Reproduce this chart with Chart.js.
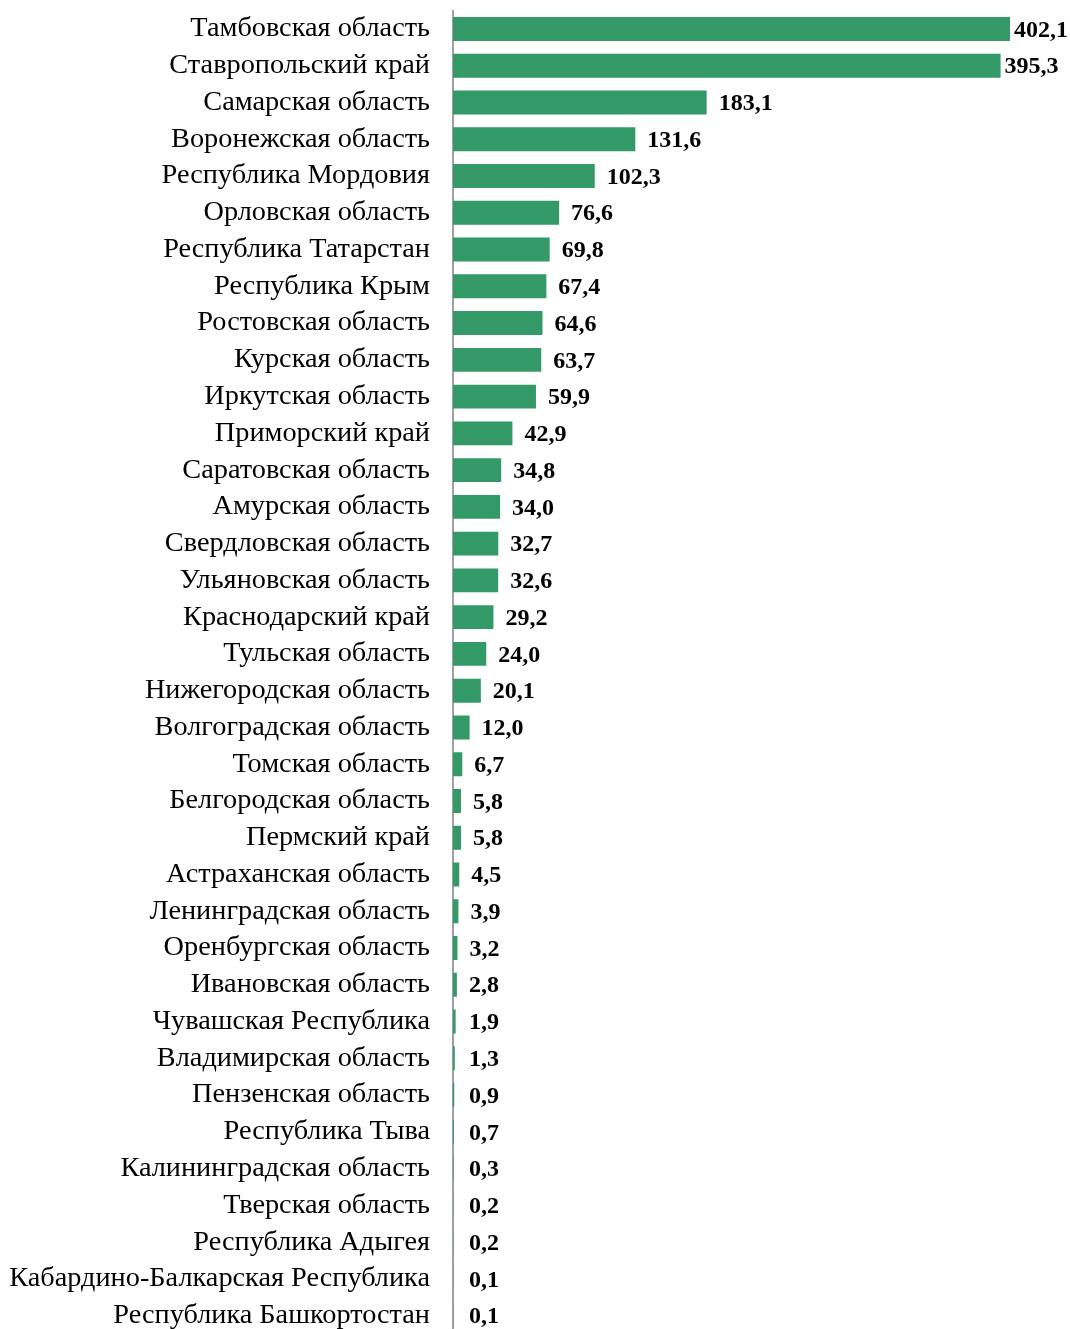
<!DOCTYPE html>
<html><head><meta charset="utf-8">
<script src="https://cdn.jsdelivr.net/npm/chart.js@4/dist/chart.umd.min.js"></script>
<style>html,body{margin:0;padding:0;background:#fff;overflow:hidden}#wrap{width:1070px;height:1334px}</style>
</head><body><div id="wrap"><canvas id="c"></canvas></div>
<script>
const categories = ["Тамбовская область","Ставропольский край","Самарская область","Воронежская область","Республика Мордовия","Орловская область","Республика Татарстан","Республика Крым","Ростовская область","Курская область","Иркутская область","Приморский край","Саратовская область","Амурская область","Свердловская область","Ульяновская область","Краснодарский край","Тульская область","Нижегородская область","Волгоградская область","Томская область","Белгородская область","Пермский край","Астраханская область","Ленинградская область","Оренбургская область","Ивановская область","Чувашская Республика","Владимирская область","Пензенская область","Республика Тыва","Калининградская область","Тверская область","Республика Адыгея","Кабардино-Балкарская Республика","Республика Башкортостан"];
const values = [402.1,395.3,183.1,131.6,102.3,76.6,69.8,67.4,64.6,63.7,59.9,42.9,34.8,34.0,32.7,32.6,29.2,24.0,20.1,12.0,6.7,5.8,5.8,4.5,3.9,3.2,2.8,1.9,1.3,0.9,0.7,0.3,0.2,0.2,0.1,0.1];
const valueLabels = values.map(v => v.toFixed(1).replace('.', ','));

const labelPlugin = {
  id: 'vlabels',
  afterDatasetsDraw(chart) {
    const ctx = chart.ctx;
    const meta = chart.getDatasetMeta(0);
    ctx.save();
    ctx.font = 'bold 24px "Liberation Serif"';
    ctx.fillStyle = '#000';
    ctx.textBaseline = 'middle';
    ctx.textAlign = 'left';
    meta.data.forEach((bar, i) => {
      const x = Math.max(bar.x + (i < 2 ? 4 : 12), chart.chartArea.left + 16);
      ctx.fillText(valueLabels[i], x, bar.y + 1.5);
    });
    ctx.restore();
  }
};

new Chart(document.getElementById('c'), {
  type: 'bar',
  data: { labels: categories, datasets: [{ data: values, backgroundColor: '#339966', barPercentage: 0.65, categoryPercentage: 1.0 }] },
  options: {
    indexAxis: 'y', responsive: true, maintainAspectRatio: false, animation: false,
    layout: { padding: { top: 10.6, right: 60, bottom: 0, left: 0 } },
    plugins: { legend: { display: false }, tooltip: { enabled: false } },
    scales: {
      x: { display: false, min: 0, max: 402.1 },
      y: {
        grid: { display: false, drawTicks: false },
        border: { display: true, color: '#a0a0a0', width: 2 },
        ticks: { color: '#000', font: { family: '"Liberation Serif"', size: 28.3 }, padding: 23, autoSkip: false },
        afterFit(axis) { axis.width = 453; axis.paddingTop = 0; axis.paddingBottom = 0; }
      }
    }
  },
  plugins: [labelPlugin]
});
</script></body></html>
